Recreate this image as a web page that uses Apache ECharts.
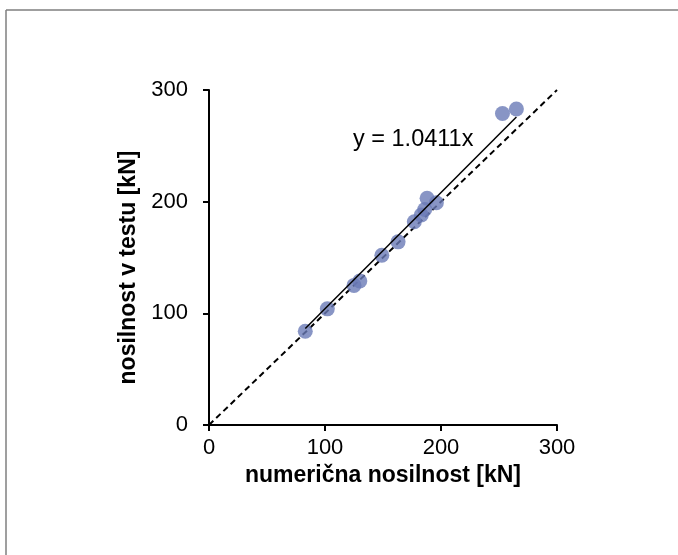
<!DOCTYPE html>
<html>
<head>
<meta charset="utf-8">
<script src="https://cdn.jsdelivr.net/npm/echarts@6/dist/echarts.min.js"></script>
<style>
	html, body { margin: 0; padding: 0; background: #fff; }
	#chart { width: 678px; height: 555px; }
</style>
</head>
<body>
<div id="chart"></div>
<script>
	// numerična nosilnost [kN] / nosilnost v testu [kN]
	var numX = [83, 102, 125, 130, 149, 163, 177, 183, 186, 188, 196, 253, 265];
	var testY = [84, 104, 125, 129, 152, 164, 182, 188, 193, 203, 199, 279, 283];
	var slope = 1.0411;
	var axisTicks = [0, 100, 200, 300];

	var points = numX.map(function (x, i) { return [x, testY[i]]; });
	var xMin = Math.min.apply(null, numX);
	var xMax = Math.max.apply(null, numX);
	var trend = [[xMin, slope * xMin], [xMax, slope * xMax]];
	var equal = [[axisTicks[0], axisTicks[0]], [axisTicks[3], axisTicks[3]]];

	var chart = echarts.init(document.getElementById('chart'));
	var font = 'Liberation Sans, Arial, sans-serif';
	var option = {
		animation: false,
		grid: { left: 209, right: 121, top: 90, bottom: 130 },
		xAxis: {
			type: 'value', min: 0, max: 300, interval: 100,
			name: 'numerična nosilnost [kN]', nameLocation: 'middle', nameGap: 35,
			nameTextStyle: { color: '#000', fontSize: 23, fontWeight: 'bold', fontFamily: font },
			axisLine: { show: true, onZero: false, lineStyle: { color: '#000', width: 2 } },
			axisTick: { show: true, length: 6, lineStyle: { color: '#000', width: 2 } },
			axisLabel: { color: '#000', fontSize: 22, fontFamily: font, margin: 12 },
			splitLine: { show: false }
		},
		yAxis: {
			type: 'value', min: 0, max: 300, interval: 100,
			name: 'nosilnost v testu [kN]', nameLocation: 'middle', nameGap: 68,
			// pomik naslova nekoliko navzdol
			nameTextStyle: { color: '#000', fontSize: 23, fontWeight: 'bold', fontFamily: font, padding: [0, 20, 0, 0] },
			axisLine: { show: true, onZero: false, lineStyle: { color: '#000', width: 2 } },
			axisTick: { show: true, length: 6, lineStyle: { color: '#000', width: 2 } },
			axisLabel: { color: '#000', fontSize: 22, fontFamily: font, margin: 21 },
			splitLine: { show: false }
		},
		graphic: [
			{ type: 'line', shape: { x1: 6, y1: 10, x2: 678, y2: 10 }, style: { stroke: '#7f7f7f', lineWidth: 1.5 } },
			{ type: 'line', shape: { x1: 6, y1: 10, x2: 6, y2: 555 }, style: { stroke: '#7f7f7f', lineWidth: 1.5 } },
			{ type: 'text', left: 353, top: 128, style: { text: 'y = 1.0411x', fill: '#000', fontSize: 23.5, fontFamily: font } }
		],
		series: [
			{
				type: 'line', data: equal, symbol: 'none', z: 2,
				lineStyle: { color: '#000', width: 2, type: [6, 4] }
			},
			{
				type: 'scatter', data: points, symbolSize: 15, z: 3,
				itemStyle: { color: '#6a7bb6' }
			},
			{
				type: 'line', data: trend, symbol: 'none', z: 4,
				lineStyle: { color: '#000', width: 1.5 }
			}
		]
	};
	chart.setOption(option);
</script>
</body>
</html>
